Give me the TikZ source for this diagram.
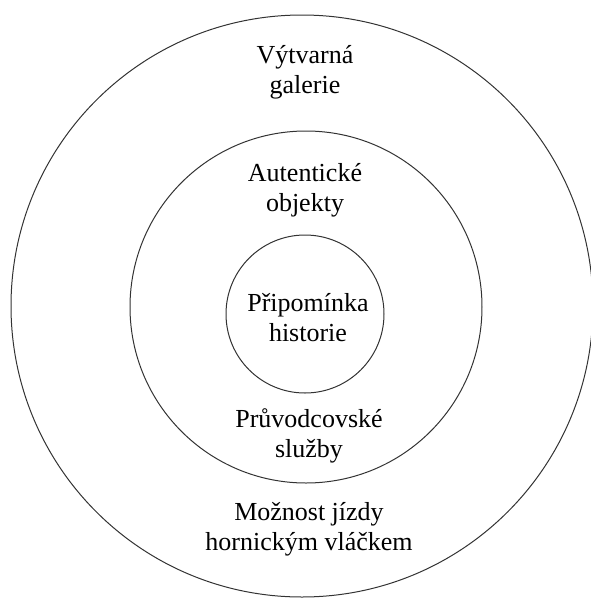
\documentclass[tikz,border=0pt]{standalone}
\usepackage{fontspec}
\setmainfont{Liberation Serif}
\begin{document}
\begin{tikzpicture}[x=1pt,y=-1pt,
  ring/.style={draw=black!80, line width=1pt, circle, inner sep=0pt},
  label/.style={align=center, anchor=base, inner sep=0pt,
    font=\fontsize{26}{30}\selectfont}]
  \useasboundingbox (0,0) rectangle (591,598);
  % three nested rings
  \node[ring, minimum size=582pt] (outer) at (302,306) {};
  \node[ring, minimum size=352pt] (middle) at (306,307) {};
  \node[ring, minimum size=158pt] (inner) at (305,314) {};
  % labels, placed by the baseline of their last line
  \node[label] (gal) at (305,93) {Výtvarná\\galerie};
  \node[label] (obj) at (305,211) {Autentické\\objekty};
  \node[label] (his) at (308,341) {Připomínka\\historie};
  \node[label] (slu) at (309,457) {Průvodcovské\\služby};
  \node[label] (vla) at (309,550) {Možnost jízdy\\hornickým vláčkem};
\end{tikzpicture}
\end{document}
